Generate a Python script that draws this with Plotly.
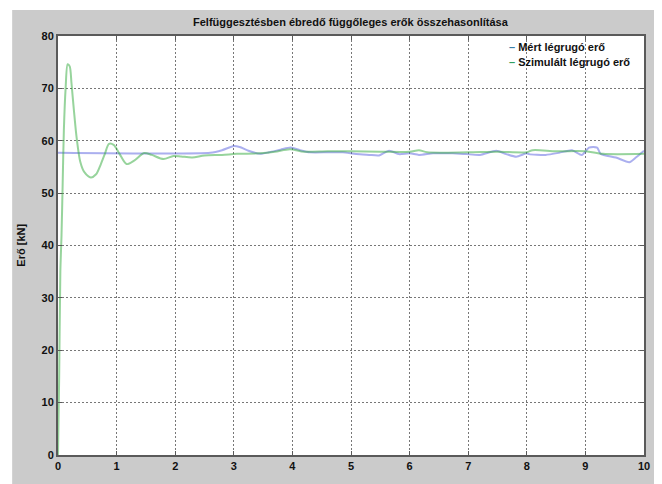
import plotly.graph_objects as go

# ---- data ----
meas_t = [0, 2.6, 2.8, 3.0, 3.1, 3.25, 3.45, 3.6, 3.8, 3.97, 4.13, 4.3, 4.6, 4.86, 5.09, 5.31,
          5.48, 5.65, 5.82, 6.0, 6.16, 6.4, 6.73, 6.97, 7.2, 7.48, 7.65, 7.82, 8.0, 8.04, 8.32,
          8.55, 8.77, 8.94, 9.06, 9.2, 9.26, 9.52, 9.75, 9.86, 10.0]
meas_f = [57.7, 57.7, 58.2, 59.0, 58.8, 58.1, 57.5, 57.8, 58.3, 58.7, 58.2, 57.8, 57.8, 57.8, 57.45, 57.3,
          57.2, 58.1, 57.45, 57.6, 57.3, 57.6, 57.6, 57.45, 57.3, 58.1, 57.45, 56.95, 57.6, 57.45, 57.3,
          57.7, 58.2, 57.3, 58.7, 58.7, 57.5, 56.8, 55.9, 56.8, 58.1]

sim_t = [0, 0.02, 0.04, 0.06, 0.08, 0.1, 0.13, 0.165, 0.2, 0.23, 0.27, 0.32, 0.38, 0.45, 0.56, 0.65,
         0.73, 0.8, 0.87, 0.95, 1.05, 1.17, 1.3, 1.47, 1.6, 1.8, 1.97, 2.1, 2.29, 2.5, 2.8, 3.05,
         3.45, 3.7, 3.96, 4.2, 4.6, 5.0, 5.5, 6.0, 6.16, 6.3, 7.0, 7.5, 8.0, 8.1, 8.5, 9.0, 9.3, 10.0]
sim_f = [0, 15, 35, 42, 52, 62, 70, 74.6, 74.2, 71, 66, 60.4, 56, 54, 53.0, 53.6,
         55.5, 57.5, 59.4, 59.2, 57.5, 55.55, 56.2, 57.65, 57.3, 56.5, 57.1, 57.0, 56.8, 57.2, 57.3, 57.5,
         57.6, 57.9, 58.4, 57.9, 58.0, 58.0, 57.9, 57.9, 58.2, 57.8, 57.8, 57.9, 57.8, 58.2, 58.0, 58.0, 57.5, 57.5]

series_names = ["Mért légrugó erő", "Szimulált légrugó erő"]
x_ticks = list(range(0, 11))
y_ticks = list(range(0, 81, 10))

title_text = "Felfüggesztésben ébredő függőleges erők összehasonlítása"
y_title = "Erő [kN]"

FONT = "Liberation Sans, Arial, sans-serif"

fig = go.Figure()
fig.add_trace(go.Scatter(x=meas_t, y=meas_f, mode="lines", name=series_names[0],
                         line=dict(color="rgb(70,80,220)", width=2, shape="spline", smoothing=0.6),
                         opacity=0.45, showlegend=False))
fig.add_trace(go.Scatter(x=sim_t, y=sim_f, mode="lines", name=series_names[1],
                         line=dict(color="rgb(50,170,60)", width=2, shape="spline", smoothing=0.8),
                         opacity=0.5, showlegend=False))

# page is offset by the body margin (8px); figure size compensates
OFF = 8
W, H = 662 - OFF, 484 - OFF
L, R, T, B = 58 - OFF, 16, 36 - OFF, 28
pw, ph = W - L - R, H - T - B

def px2paper_x(px):  # px in page coordinates
    return (px - OFF - L) / pw

def py2paper_y(py):
    return (H - B - (py - OFF)) / ph

shapes = [
    dict(type="rect", xref="paper", yref="paper", layer="below",
         x0=px2paper_x(12), x1=px2paper_x(680), y0=py2paper_y(500), y1=py2paper_y(10),
         fillcolor="#cbcbcb", line=dict(width=0)),
    dict(type="rect", xref="paper", yref="paper", layer="below",
         x0=0, x1=1, y0=0, y1=1, fillcolor="white", line=dict(width=0)),
]

annotations = [
    dict(text="<b>" + title_text + "</b>", xref="paper", yref="paper",
         x=0.5, y=py2paper_y(22), xanchor="center", yanchor="middle", showarrow=False,
         font=dict(family=FONT, size=11, color="#111")),
    dict(text="<b>" + y_title + "</b>", xref="paper", yref="paper",
         x=px2paper_x(20), y=0.5, xanchor="center", yanchor="middle", showarrow=False,
         textangle=-90, font=dict(family=FONT, size=11, color="#111")),
    dict(text="<b><span style='color:#3a80a8'>–</span> " + series_names[0] + "</b>",
         xref="paper", yref="paper", x=px2paper_x(509), y=py2paper_y(47),
         xanchor="left", yanchor="middle", showarrow=False,
         font=dict(family=FONT, size=11, color="#111")),
    dict(text="<b><span style='color:#30a060'>–</span> " + series_names[1] + "</b>",
         xref="paper", yref="paper", x=px2paper_x(509), y=py2paper_y(62),
         xanchor="left", yanchor="middle", showarrow=False,
         font=dict(family=FONT, size=11, color="#111")),
]

axis_common = dict(showline=True, linecolor="#5a5a5a", linewidth=2, mirror="ticks",
                   showgrid=True, gridcolor="#777777", griddash="2px,2px", gridwidth=1,
                   ticks="inside", ticklen=4, tickcolor="#5a5a5a", zeroline=False,
                   tickfont=dict(family=FONT, size=11, color="#111"))

fig.update_xaxes(range=[0, 10], tickvals=x_ticks, ticktext=["<b>%d</b>" % v for v in x_ticks],
                 **axis_common)
fig.update_yaxes(range=[0, 80], tickvals=y_ticks, ticktext=["<b>%d</b>" % v for v in y_ticks],
                 **axis_common)

fig.update_layout(width=W, height=H, margin=dict(l=L, r=R, t=T, b=B, pad=0),
                  paper_bgcolor="white", plot_bgcolor="white",
                  shapes=shapes, annotations=annotations, showlegend=False)

fig.write_html("out.html")
